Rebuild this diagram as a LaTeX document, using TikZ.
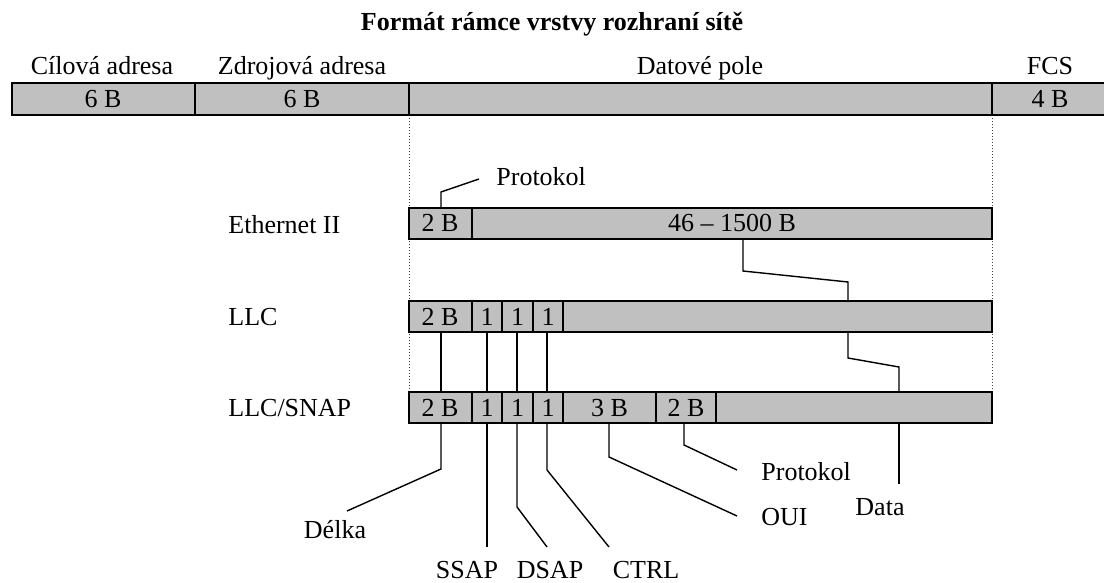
\documentclass[tikz,border=0pt]{standalone}
\usepackage{fontspec}
\setmainfont{Liberation Serif}
\definecolor{barfill}{HTML}{C0C0C0}
\begin{document}
\begin{tikzpicture}[x=0.5pt,y=-0.5pt,
  font=\fontsize{13}{15}\selectfont,
  cell/.style={draw=black, line width=1.1pt, fill=barfill},
  lead/.style={draw=black, line width=0.7pt},
  guide/.style={draw=black!75, densely dotted, line width=0.5pt},
  lbl/.style={inner sep=0pt, anchor=base},
  lblw/.style={inner sep=0pt, anchor=base west}]
\useasboundingbox (0,0) rectangle (1104,583);
\clip (0,0) rectangle (1104,583);

% title
\node[lbl, font=\fontsize{13}{15}\selectfont\bfseries] (title) at (552,31) {Formát rámce vrstvy rozhraní sítě};

% guides
\draw[guide] (409,115) -- (409,392);
\draw[guide] (992,115) -- (992,392);

% top frame
\draw[cell] (12,83) rectangle (195,115);
\draw[cell] (195,83) rectangle (409,115);
\draw[cell] (409,83) rectangle (992,115);
\draw[cell] (992,83) rectangle (1110,115);
\node[lbl] (hdst) at (102,75) {Cílová adresa};
\node[lbl] (hsrc) at (302,75) {Zdrojová adresa};
\node[lbl] (hdata) at (700,75) {Datové pole};
\node[lbl] (hfcs) at (1050,75) {FCS};
\node[lbl] (cdst) at (103,108) {6 B};
\node[lbl] (csrc) at (302,108) {6 B};
\node[lbl] (cfcs) at (1050,108) {4 B};

% row labels
\node[lblw] (reth) at (228,234) {Ethernet II};
\node[lblw] (rllc) at (228,325) {LLC};
\node[lblw] (rsnap) at (228,416) {LLC/SNAP};

% Ethernet II
\draw[cell] (409,208) rectangle (472,239);
\draw[cell] (472,208) rectangle (992,239);
\node[lbl] (e1) at (440,232) {2 B};
\node[lbl] (e2) at (732,232) {46 -- 1500 B};

% LLC
\draw[cell] (409,301) rectangle (472,332);
\draw[cell] (472,301) rectangle (502,332);
\draw[cell] (502,301) rectangle (533,332);
\draw[cell] (533,301) rectangle (563,332);
\draw[cell] (563,301) rectangle (992,332);
\node[lbl] (l1) at (440,325) {2 B};
\node[lbl] (l2) at (487,325) {1};
\node[lbl] (l3) at (517.5,325) {1};
\node[lbl] (l4) at (548,325) {1};

% LLC/SNAP
\draw[cell] (409,392) rectangle (472,423);
\draw[cell] (472,392) rectangle (502,423);
\draw[cell] (502,392) rectangle (533,423);
\draw[cell] (533,392) rectangle (563,423);
\draw[cell] (563,392) rectangle (656,423);
\draw[cell] (656,392) rectangle (716,423);
\draw[cell] (716,392) rectangle (992,423);
\node[lbl] (s1) at (440,416) {2 B};
\node[lbl] (s2) at (487,416) {1};
\node[lbl] (s3) at (517.5,416) {1};
\node[lbl] (s4) at (548,416) {1};
\node[lbl] (s5) at (609.5,416) {3 B};
\node[lbl] (s6) at (686,416) {2 B};

% labels
\node[lblw] (ptop) at (496,185) {Protokol};
\node[lblw] (pbot) at (761,480) {Protokol};
\node[lblw] (oui) at (761,525) {OUI};
\node[lbl] (ssap) at (467,578) {SSAP};
\node[lbl] (dsap) at (550,578) {DSAP};
\node[lbl] (ctrl) at (646,578) {CTRL};
\node[lbl] (delka) at (335,538) {Délka};
\node[lbl] (data) at (880,515) {Data};

% leader coordinates
\coordinate (ptopend) at (479,179);
\coordinate (pbotend) at (737,470);
\coordinate (ouiend) at (737,516);
\coordinate (ssapend) at (487,547);
\coordinate (dsapend) at (547,547);
\coordinate (ctrlend) at (609,547);
\coordinate (delkaend) at (347,511);
\coordinate (dataend) at (899,484);

% leaders
\draw[lead] (441,208) -- (441,192) -- (ptopend);
\draw[lead] (743,239) -- (743,271) -- (848,282) -- (848,301);
\draw[lead] (848,332) -- (848,358) -- (899,367) -- (899,392);
\draw[lead] (899,423) -- (dataend);
\draw[lead] (441,332) -- (441,392);
\draw[lead] (487,332) -- (487,392);
\draw[lead] (517,332) -- (517,392);
\draw[lead] (547,332) -- (547,392);
\draw[lead] (441,423) -- (441,469) -- (delkaend);
\draw[lead] (487,423) -- (ssapend);
\draw[lead] (517,423) -- (517,507) -- (dsapend);
\draw[lead] (547,423) -- (547,470) -- (ctrlend);
\draw[lead] (609,423) -- (609,457) -- (ouiend);
\draw[lead] (684,423) -- (684,445) -- (pbotend);
\end{tikzpicture}
\end{document}
